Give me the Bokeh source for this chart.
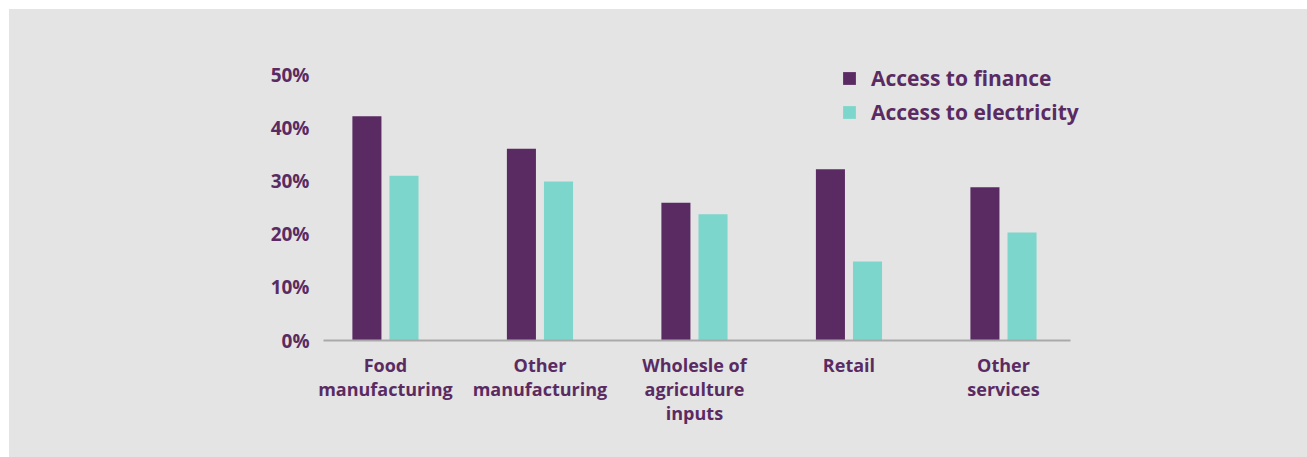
from bokeh.plotting import figure
from bokeh.models import ColumnDataSource, Range1d, FixedTicker, PrintfTickFormatter, Legend, LegendItem
from bokeh.transform import dodge
from bokeh.embed import file_html
from bokeh.resources import INLINE

categories = ["Food\nmanufacturing", "Other\nmanufacturing", "Wholesle of\nagriculture\ninputs", "Retail", "Other\nservices"]
finance = [42.3, 36.2, 26.0, 32.3, 28.9]
electricity = [31.1, 30.0, 23.8, 14.9, 20.4]
y_ticks = [0, 10, 20, 30, 40, 50]

PURPLE = "#5a2b62"
TEAL = "#7dd6cb"
BG = "#e4e4e4"
FONT = "Open Sans"

X_START, X_AXIS_END, X_FRAME_END = -0.401, 4.434, 4.628

idx = list(range(len(categories)))
src = ColumnDataSource(dict(x=idx, finance=finance, electricity=electricity))

p = figure(width=1298, height=448, output_backend="svg", toolbar_location=None,
           x_range=Range1d(X_START, X_FRAME_END), y_range=Range1d(0, 52.83),
           min_border_left=314, min_border_right=207, min_border_top=51, min_border_bottom=117)
p.margin = (9, 0, 0, 9)
p.styles = {"background-color": BG}
p.background_fill_color = None
p.border_fill_color = None
p.outline_line_color = None
p.grid.grid_line_color = None

r1 = p.vbar(x=dodge("x", -0.12, range=p.x_range), top="finance", width=0.188, source=src,
            fill_color=PURPLE, line_color=None)
r2 = p.vbar(x=dodge("x", 0.12, range=p.x_range), top="electricity", width=0.188, source=src,
            fill_color=TEAL, line_color=None)

# x axis
xa = p.xaxis[0]
xa.bounds = (X_START, X_AXIS_END)
xa.ticker = FixedTicker(ticks=idx)
xa.major_label_overrides = {i: c for i, c in zip(idx, categories)}
xa.axis_line_color = "#a9a9a9"
xa.axis_line_width = 2
xa.major_tick_line_color = None
xa.minor_tick_line_color = None
xa.major_label_text_font = FONT
xa.major_label_text_font_style = "bold"
xa.major_label_text_font_size = "18px"
xa.major_label_text_line_height = 1.0
xa.major_label_text_color = PURPLE
xa.major_label_standoff = 6

ya = p.yaxis[0]
ya.ticker = FixedTicker(ticks=y_ticks)
ya.formatter = PrintfTickFormatter(format="%d%%")
ya.axis_line_color = None
ya.major_tick_line_color = None
ya.minor_tick_line_color = None
ya.major_label_text_font = FONT
ya.major_label_text_font_style = "bold"
ya.major_label_text_font_size = "19px"
ya.major_label_text_color = PURPLE
ya.major_label_standoff = 8

legend = Legend(items=[LegendItem(label="Access to finance", renderers=[r1]),
                       LegendItem(label="Access to electricity", renderers=[r2])],
                location=(518, 214))
legend.glyph_width = 16
legend.glyph_height = 16
legend.label_standoff = 14
legend.spacing = 6
legend.padding = 0
legend.margin = 0
legend.border_line_color = None
legend.background_fill_alpha = 0
legend.label_text_font = FONT
legend.label_text_font_style = "bold"
legend.label_text_font_size = "21px"
legend.label_text_color = PURPLE
p.add_layout(legend, "center")

open("out.html", "w").write(file_html(p, INLINE))
